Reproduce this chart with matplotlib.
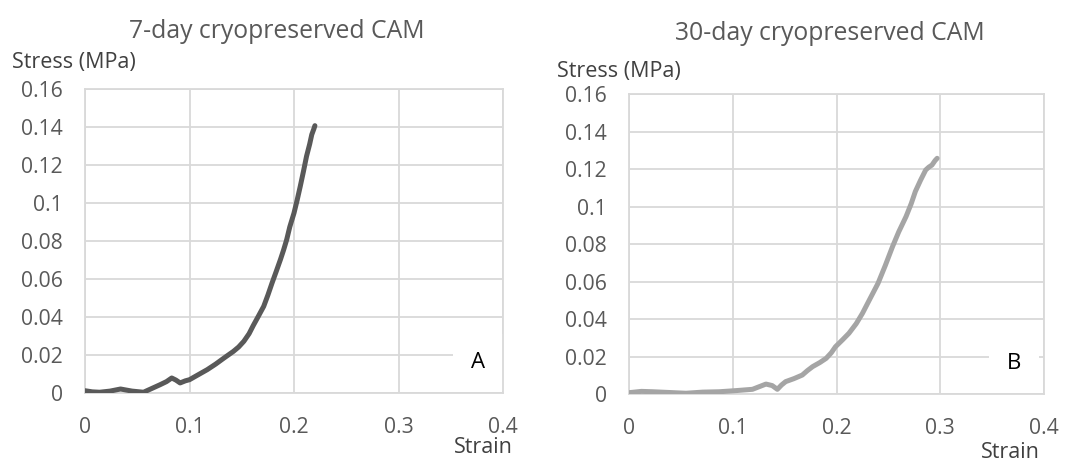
import matplotlib
matplotlib.use("Agg")
import matplotlib.pyplot as plt

plt.rcParams['font.family'] = ['Open Sans', 'DejaVu Sans']

# panel A: 7-day cryopreserved CAM
strain_a = [0.0, 0.007, 0.014, 0.024, 0.034, 0.045, 0.056, 0.064, 0.072, 0.078, 0.083,
            0.087, 0.091, 0.096, 0.100, 0.108, 0.117, 0.125, 0.133, 0.142, 0.147, 0.152,
            0.157, 0.161, 0.166, 0.171, 0.175, 0.179, 0.183, 0.187, 0.190, 0.193, 0.196,
            0.2, 0.203, 0.206, 0.209, 0.212, 0.215, 0.217, 0.219, 0.22]
stress_a = [0.0012, 0.0006, 0.0004, 0.0010, 0.0021, 0.0010, 0.0004, 0.0024, 0.0044,
            0.0060, 0.0079, 0.0068, 0.0053, 0.0064, 0.0070, 0.0095, 0.0123, 0.0152,
            0.0184, 0.0219, 0.0242, 0.0272, 0.0312, 0.0355, 0.0405, 0.0456, 0.0515,
            0.0579, 0.0640, 0.0702, 0.0752, 0.0807, 0.0875, 0.0947, 0.1015, 0.1088,
            0.1165, 0.1246, 0.1310, 0.1360, 0.1390, 0.1407]

# panel B: 30-day cryopreserved CAM
strain_b = [0.0, 0.012, 0.023, 0.039, 0.055, 0.071, 0.087, 0.103, 0.119, 0.126, 0.132,
            0.138, 0.143, 0.147, 0.151, 0.159, 0.167, 0.172, 0.177, 0.184, 0.19, 0.195,
            0.199, 0.206, 0.212, 0.219, 0.225, 0.232, 0.240, 0.247, 0.254, 0.260, 0.267,
            0.272, 0.276, 0.281, 0.286, 0.289, 0.292, 0.295, 0.297]
stress_b = [0.0007, 0.0014, 0.0012, 0.0008, 0.0004, 0.0010, 0.0012, 0.0018, 0.0025,
            0.0040, 0.0053, 0.0045, 0.0025, 0.0048, 0.0066, 0.0082, 0.0101, 0.0125,
            0.0146, 0.0168, 0.0190, 0.0220, 0.0252, 0.0290, 0.0324, 0.0375, 0.0430,
            0.0505, 0.0590, 0.0685, 0.0786, 0.0865, 0.0946, 0.1015, 0.1080, 0.1140,
            0.1195, 0.1210, 0.1221, 0.1245, 0.1257]

xticks = [0, 0.1, 0.2, 0.3, 0.4]
xtick_labels = ['0', '0.1', '0.2', '0.3', '0.4']
yticks = [0, 0.02, 0.04, 0.06, 0.08, 0.1, 0.12, 0.14, 0.16]
ytick_labels = ['0', '0.02', '0.04', '0.06', '0.08', '0.1', '0.12', '0.14', '0.16']

W, H = 1065, 461
fig = plt.figure(figsize=(W / 100, H / 100), dpi=100)

grid_c = '#d9d9d9'
txt_c = '#595959'

panels = [
    # box in px (left, top, right, bottom); text positions in px
    dict(box=(85, 89, 503, 393), x=strain_a, y=stress_a, c='#595959',
         title='7-day cryopreserved CAM', tpos=(277, 32), letter='A', lpos=(0.940, 0.099),
         ylab=(12, 62), xlab=(513, 447)),
    dict(box=(629, 94, 1044, 394), x=strain_b, y=stress_b, c='#a5a5a5',
         title='30-day cryopreserved CAM', tpos=(830, 34), letter='B', lpos=(0.928, 0.103),
         ylab=(557, 72), xlab=(1040, 452)),
]

for p in panels:
    l, t, r, b = p['box']
    ax = fig.add_axes([l / W, 1 - b / H, (r - l) / W, (b - t) / H])
    ax.plot(p['x'], p['y'], color=p['c'], lw=3.6, solid_capstyle='round',
            solid_joinstyle='round', zorder=3)
    ax.set_xlim(0, 0.4)
    ax.set_ylim(0, 0.16)
    ax.set_xticks(xticks)
    ax.set_xticklabels(xtick_labels)
    ax.set_yticks(yticks)
    ax.set_yticklabels(ytick_labels)
    ax.tick_params(length=0, labelsize=15.2, colors=txt_c)
    ax.tick_params(axis='x', pad=17)
    ax.tick_params(axis='y', pad=16)
    ax.grid(True, color=grid_c, lw=1.3)
    ax.set_axisbelow(True)
    for s in ax.spines.values():
        s.set_color(grid_c)
        s.set_linewidth(1.3)
    ax.text(p['lpos'][0], p['lpos'][1], p['letter'], transform=ax.transAxes,
            ha='center', va='center', fontsize=16, color='black', zorder=2.2,
            bbox=dict(facecolor='white', edgecolor='none', pad=13))
    fig.text(p['tpos'][0] / W, 1 - p['tpos'][1] / H, p['title'], ha='center', va='center',
             fontsize=17.8, color=txt_c)
    fig.text(p['ylab'][0] / W, 1 - p['ylab'][1] / H, 'Stress (MPa)', ha='left', va='center',
             fontsize=15.5, color='#404040')
    fig.text(p['xlab'][0] / W, 1 - p['xlab'][1] / H, 'Strain', ha='right', va='center',
             fontsize=15.5, color='#404040')

fig.savefig('out.png', dpi=100)
